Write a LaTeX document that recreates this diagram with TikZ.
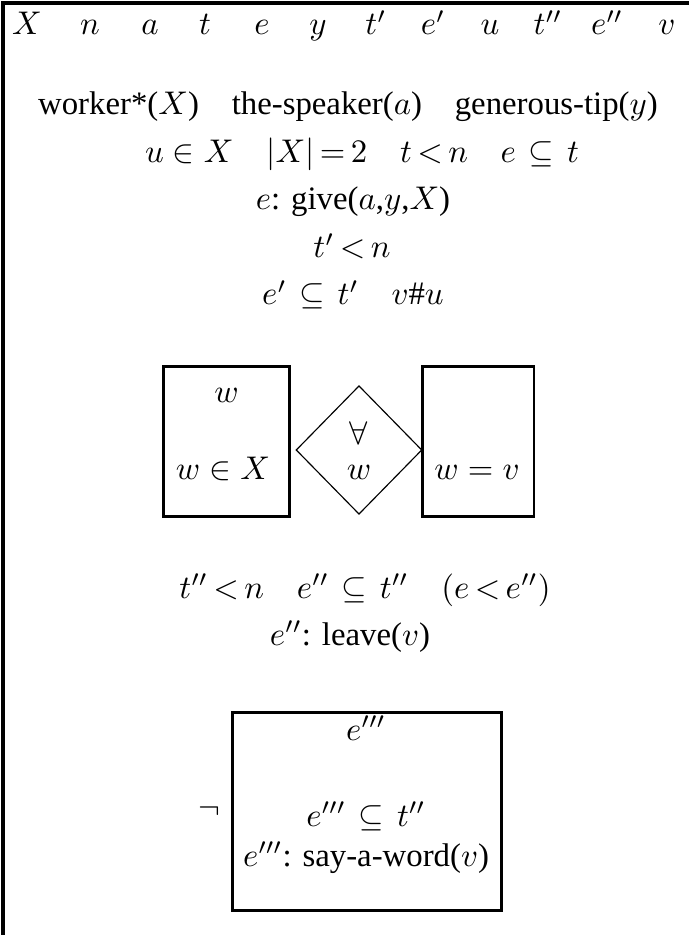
\documentclass[tikz,border=0pt]{standalone}
\usepackage{fontspec}
\setmainfont{Liberation Serif}
\usepackage{amsmath,amssymb}
\usetikzlibrary{positioning,shapes.geometric}
\newcommand{\subev}{\mathrel{\mskip2mu\subseteq\mskip2mu}}

\begin{document}
\begin{tikzpicture}[x=0.305pt, y=-0.305pt, font=\fontsize{10}{12}\selectfont,
  frame/.style={line width=0.95pt},
  drsbox/.style={draw, line width=0.9pt, inner sep=0pt},
  cond/.style={anchor=base, inner sep=0pt},
  quantop/.style={draw, line width=0.35pt, diamond, inner sep=0pt,
    minimum width=38.4pt, minimum height=39.2pt}]
\useasboundingbox (0,0) rectangle (689,935);
% outer box
\draw[frame] (689,3) -- (3,3) -- (3,935);
% universe
\foreach \v/\x [count=\i] in {X/27, n/90, a/150, t/205, e/262, y/318, t'/376,
    e'/433, u/490, t''/548, e''/607, v/667}
  \node[cond] (ref\i) at (\x,35) {$\v$};
% conditions
\node[cond] (c1) at (348,115) {worker*($X$)\quad the-speaker($a$)\quad generous-tip($y$)};
\node[cond] (c2) at (362,163) {$u\in X\quad |X|\,{=}\,2\quad t\,{<}\,n\quad e\subev t$};
\node[cond] (c3) at (353,210) {$e$: give($a$,$y$,$X$)};
\node[cond] (c4) at (352,258) {$t'\,{<}\,n$};
\node[cond] (c5) at (353,305) {$e'\subev t'\quad v\#u$};
% duplex condition
\node[drsbox, minimum width=38.6pt, minimum height=45.75pt] (restr) at (226.5,441.7) {};
\node[cond] (restrref) at (226.5,402) {$w$};
\node[cond] (restrcond) at (223,479) {$w\in X$};
\node[quantop] (quant) at (359,450) {};
\node[cond] (quantsym) at (359,444) {$\forall$};
\node[cond] (quantref) at (359,479) {$w$};
\node[drsbox, minimum width=33.9pt, minimum height=45.75pt] (scope) at (478.4,441.7) {};
\node[cond] (scopecond) at (477,479) {$w=v$};
% remaining conditions
\node[cond] (c6) at (365,598) {$t''\,{<}\,n\quad e''\subev t''\quad (e\,{<}\,e'')$};
\node[cond] (c7) at (350,645) {$e''$: leave($v$)};
% negated box
\node[drsbox, minimum width=81.9pt, minimum height=60.5pt] (negbox) at (366.8,811.3) {};
\node[left=3pt of negbox, inner sep=0pt] (negop) {$\neg$};
\node[cond] (negref) at (366,740) {$e'''$};
\node[cond] (negc1) at (366,826) {$e'''\subev t''$};
\node[cond] (negc2) at (366,866) {$e'''$: say-a-word($v$)};
\end{tikzpicture}
\end{document}
